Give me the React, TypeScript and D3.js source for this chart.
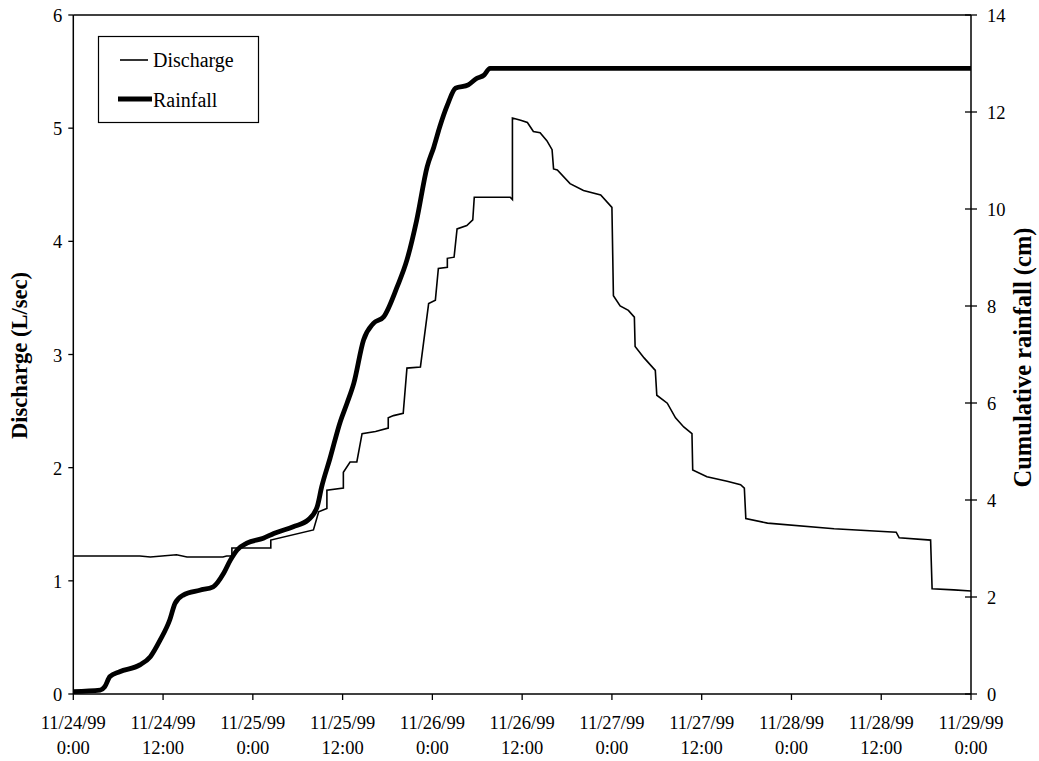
import React from "react";
import * as d3 from "d3";

// Hours since 11/24/99 0:00 and discharge (L/sec)
const discharge: [number, number][] = [
  [0, 1.22], [8.9, 1.22], [10.3, 1.21], [13.8, 1.23], [15.2, 1.21], [20.0, 1.21],
  [20.5, 1.22], [21.2, 1.22], [21.2, 1.29], [26.4, 1.29], [26.4, 1.36], [32.1, 1.45],
  [32.8, 1.61], [33.9, 1.64], [33.9, 1.8], [36.1, 1.82], [36.1, 1.96], [37.0, 2.05],
  [37.9, 2.05], [38.6, 2.3], [40.4, 2.32], [42.1, 2.35], [42.1, 2.44], [42.8, 2.46],
  [44.1, 2.48], [44.6, 2.88], [46.4, 2.89], [47.5, 3.45], [48.4, 3.48], [48.8, 3.76],
  [50.0, 3.77], [50.0, 3.85], [50.9, 3.86], [51.3, 4.11], [52.6, 4.14], [53.4, 4.19],
  [53.6, 4.39], [58.4, 4.39], [58.7, 4.37], [58.7, 5.09], [59.8, 5.07], [60.7, 5.05],
  [61.5, 4.97], [62.4, 4.96], [63.3, 4.89], [64.0, 4.81], [64.2, 4.64], [64.7, 4.63],
  [66.4, 4.51], [68.2, 4.45], [70.5, 4.41], [72.0, 4.3], [72.2, 3.52], [73.1, 3.43],
  [74.2, 3.39], [75.0, 3.33], [75.1, 3.07], [76.3, 2.97], [77.8, 2.86], [78.0, 2.64],
  [79.4, 2.57], [80.5, 2.44], [81.6, 2.36], [82.7, 2.3], [82.8, 1.98], [84.7, 1.92],
  [87.4, 1.88], [89.2, 1.85], [89.7, 1.82], [89.9, 1.55], [92.8, 1.51], [101.7, 1.46],
  [110.0, 1.43], [110.4, 1.38], [114.6, 1.36], [114.8, 0.93], [117.7, 0.92], [120, 0.91],
];

// Hours since 11/24/99 0:00 and cumulative rainfall (cm)
const rainfall: [number, number][] = [
  [0, 0.05], [3.6, 0.08], [4.2, 0.15], [4.9, 0.36], [6.2, 0.46], [8.9, 0.6],
  [10.3, 0.77], [11.6, 1.11], [12.9, 1.53], [13.6, 1.87], [14.7, 2.04], [16.9, 2.14],
  [18.7, 2.21], [20.1, 2.49], [21.0, 2.76], [21.9, 2.97], [23.2, 3.11], [25.4, 3.21],
  [26.8, 3.31], [29.4, 3.45], [31.4, 3.59], [32.6, 3.86], [33.2, 4.27], [34.3, 4.85],
  [35.7, 5.62], [36.6, 6.0], [37.5, 6.41], [38.8, 7.3], [40.1, 7.64], [41.5, 7.78],
  [43.3, 8.4], [44.6, 8.95], [45.9, 9.77], [47.3, 10.87], [48.2, 11.28], [49.0, 11.7],
  [50.0, 12.14], [51.1, 12.49], [52.8, 12.56], [53.9, 12.69], [54.9, 12.76], [55.7, 12.9],
  [120, 12.9],
];

const dischargeTicks = [0, 1, 2, 3, 4, 5, 6];
const rainfallTicks = [0, 2, 4, 6, 8, 10, 12, 14];
const timeTicks = [0, 12, 24, 36, 48, 60, 72, 84, 96, 108, 120];
const timeTickDates = [
  "11/24/99", "11/24/99", "11/25/99", "11/25/99", "11/26/99", "11/26/99",
  "11/27/99", "11/27/99", "11/28/99", "11/28/99", "11/29/99",
];
const timeTickClocks = [
  "0:00", "12:00", "0:00", "12:00", "0:00", "12:00", "0:00", "12:00", "0:00", "12:00", "0:00",
];

const W = 1039;
const H = 761;
const left = 73.3;
const right = 971;
const top = 15;
const bottom = 694;
const font = "'Liberation Serif', 'Times New Roman', serif";

export default function App() {
  const x = d3.scaleLinear().domain([0, 120]).range([left, right]);
  const yL = d3.scaleLinear().domain([0, 6]).range([bottom, top]);
  const yR = d3.scaleLinear().domain([0, 14]).range([bottom, top]);

  const dischargeLine = d3
    .line<[number, number]>()
    .x((d) => x(d[0]))
    .y((d) => yL(d[1]));
  const rainLine = d3
    .line<[number, number]>()
    .x((d) => x(d[0]))
    .y((d) => yR(d[1]))
    .curve(d3.curveMonotoneX);

  return (
    <svg
      width={W}
      height={H}
      style={{ position: "absolute", left: 0, top: 0, background: "#fff" }}
      fontFamily={font}
    >
      <rect x={0} y={0} width={W} height={H} fill="#fff" />

      {/* frame */}
      <line x1={left} x2={right} y1={top} y2={top} stroke="#000" strokeWidth={1.3} />
      <line x1={left} x2={right} y1={bottom} y2={bottom} stroke="#000" strokeWidth={1.5} />
      <line x1={left} x2={left} y1={top} y2={bottom} stroke="#000" strokeWidth={1.5} />
      <line x1={right} x2={right} y1={top} y2={bottom} stroke="#000" strokeWidth={1.5} />

      {/* left axis */}
      {dischargeTicks.map((t) => (
        <g key={"l" + t}>
          <line x1={left - 5} x2={left} y1={yL(t)} y2={yL(t)} stroke="#000" strokeWidth={1.3} />
          <text x={left - 11} y={yL(t) + 7} textAnchor="end" fontSize={18.5}>
            {t}
          </text>
        </g>
      ))}

      {/* right axis */}
      {rainfallTicks.map((t) => (
        <g key={"r" + t}>
          <line x1={right - 6} x2={right + 6} y1={yR(t)} y2={yR(t)} stroke="#000" strokeWidth={1.3} />
          <text x={right + 16} y={yR(t) + 7} textAnchor="start" fontSize={18.5}>
            {t}
          </text>
        </g>
      ))}

      {/* time axis */}
      {timeTicks.map((t, i) => (
        <g key={"t" + t}>
          <line x1={x(t)} x2={x(t)} y1={bottom} y2={bottom + 6} stroke="#000" strokeWidth={1.3} />
          <text x={x(t)} y={729} textAnchor="middle" fontSize={18.5}>
            {timeTickDates[i]}
          </text>
          <text x={x(t)} y={754} textAnchor="middle" fontSize={18.5}>
            {timeTickClocks[i]}
          </text>
        </g>
      ))}

      {/* axis titles */}
      <text
        transform={`translate(27,${(top + bottom) / 2 + 1}) rotate(-90)`}
        textAnchor="middle"
        fontSize={22.5}
        fontWeight="bold"
      >
        Discharge (L/sec)
      </text>
      <text
        transform={`translate(1031,${(top + bottom) / 2 + 3}) rotate(-90)`}
        textAnchor="middle"
        fontSize={24.5}
        fontWeight="bold"
      >
        Cumulative rainfall (cm)
      </text>

      {/* series */}
      <path d={rainLine(rainfall) ?? ""} fill="none" stroke="#000" strokeWidth={4.8} strokeLinejoin="round" />
      <path d={dischargeLine(discharge) ?? ""} fill="none" stroke="#000" strokeWidth={1.6} />

      {/* legend */}
      <rect x={98.5} y={36.5} width={160} height={86} fill="#fff" stroke="#000" strokeWidth={1.2} />
      <line x1={120} x2={148} y1={60} y2={60} stroke="#000" strokeWidth={1.6} />
      <text x={153} y={67} fontSize={20}>Discharge</text>
      <line x1={118} x2={152} y1={99} y2={99} stroke="#000" strokeWidth={4.8} />
      <text x={153} y={107} fontSize={20}>Rainfall</text>
    </svg>
  );
}
